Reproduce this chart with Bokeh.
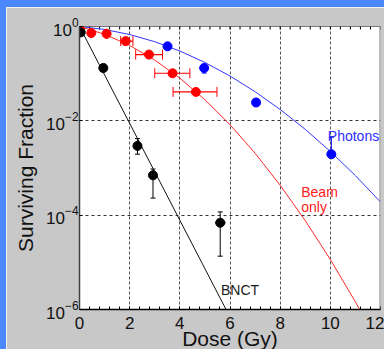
import math
from bokeh.plotting import figure
from bokeh.models import (ColumnDataSource, Whisker, TeeHead, FixedTicker,
                          Range1d, Span)
from bokeh.core.properties import value
from bokeh.embed import file_html
from bokeh.resources import INLINE

# ---- data ----
x_ticks = [0, 2, 4, 6, 8, 10, 12]
x_minor_ticks = [i * 0.4 for i in range(31)]
y_ticks = [1e-6, 1e-4, 1e-2, 1.0]

# model curves (read at whole Gy)
photon_curve_dose = [0, 1, 2, 3, 4, 5, 6, 7, 8, 9, 10, 11, 12]
photon_curve_sf = [1.0, 0.866, 0.676, 0.476, 0.302, 0.173, 0.0891, 0.0415,
                   0.0174, 0.0066, 0.00224, 0.00069, 0.00019]
beam_curve_dose = [0, 1, 2, 3, 4, 5, 6, 7, 8, 9, 10, 11, 11.5]
beam_curve_sf = [1.0, 0.686, 0.397, 0.1945, 0.0803, 0.028, 0.00826, 0.00206,
                 0.000432, 7.66e-5, 1.15e-5, 1.45e-6, 4.9e-7]
bnct_curve_dose = [0, 6]
bnct_curve_sf = [1.0, 6.9e-7]

# measured points
photon_dose = [3.51, 4.97, 7.04, 10.04]
photon_sf = [0.38, 0.132, 0.0245, 0.00196]
photon_sf_lo = [0.36, 0.103, 0.0235, 0.0018]
photon_sf_hi = [0.40, 0.140, 0.0255, 0.0045]

beam_dose = [0.02, 0.47, 1.08, 1.84, 2.77, 3.71, 4.64]
beam_sf = [0.88, 0.73, 0.70, 0.49, 0.254, 0.102, 0.041]
beam_dose_lo = [0.02, 0.47, 1.08, 1.64, 2.24, 3.00, 3.73]
beam_dose_hi = [0.02, 0.47, 1.08, 2.13, 3.31, 4.40, 5.48]

bnct_dose = [0.05, 0.95, 2.31, 2.93, 5.61]
bnct_sf = [0.75, 0.132, 0.00294, 7.0e-4, 6.9e-5]
bnct_sf_lo = [0.75, 0.132, 0.00196, 2.3e-4, 1.35e-5]
bnct_sf_hi = [0.75, 0.132, 0.0042, 9.5e-4, 1.17e-4]
bnct_dose_lo = [0.05, 0.95, 2.31, 2.93, 5.40]
bnct_dose_hi = [0.05, 0.95, 2.31, 2.93, 5.83]

label_text = ["Photons", "Beam", "only", "BNCT"]
label_dose = [9.9, 8.84, 8.84, 5.64]
label_sf = [0.0048, 3.13e-4, 1.48e-4, 2.62e-6]
label_color = ["#2f2fff", "#ff2020", "#ff2020", "#1a1a1a"]

BLUE = "#0000ff"
RED = "#ff0000"
FONT = "Liberation Sans"
X0, X1, Y0, Y1 = 0, 12, 1e-6, 1.0

p = figure(width=384, height=349, y_axis_type="log",
           x_range=Range1d(X0, X1), y_range=Range1d(Y0, Y1),
           output_backend="svg", toolbar_location=None,
           min_border_left=73, min_border_right=10, min_border_top=19,
           min_border_bottom=47,
           border_fill_color="#c8c8c8", background_fill_color="white",
           outline_line_color=None)
p.styles = {"border-left": "6px solid #4a88fb", "border-top": "7px solid #4a88fb"}

# axes
p.xaxis.ticker = FixedTicker(ticks=x_ticks, minor_ticks=x_minor_ticks)
p.yaxis.ticker = FixedTicker(ticks=y_ticks)
for ax in (p.xaxis[0], p.yaxis[0]):
    ax.major_label_text_font = FONT
    ax.major_label_text_font_size = "17px"
    ax.major_label_text_color = "#111111"
    ax.axis_label_text_font = FONT
    ax.axis_label_text_font_size = "21px"
    ax.axis_label_text_font_style = "normal"
    ax.axis_label_text_color = "#111111"
    ax.major_tick_in = 3
    ax.major_tick_out = 0
    ax.minor_tick_in = 3
    ax.minor_tick_out = 0
p.xaxis.axis_label = "Dose (Gy)"
p.yaxis.axis_label = "Surviving Fraction"
p.xaxis.axis_line_color = "black"
p.xaxis.axis_line_width = 1.5
p.xaxis.major_label_standoff = 7
p.xaxis.axis_label_standoff = -5
p.yaxis.axis_line_color = "#404040"
p.yaxis.axis_line_width = 1.5
p.yaxis.major_label_standoff = 1
p.yaxis.axis_label_standoff = 6
p.yaxis.minor_tick_line_color = None

# frame top edge with inward ticks, right edge grey bar
p.add_layout(Span(location=Y1, dimension="width", line_color="black", line_width=1))
p.add_layout(Span(location=X1, dimension="height", line_color="#7a7a7a", line_width=2))
p.scatter(x_minor_ticks, [Y1] * len(x_minor_ticks), marker="dash", size=6,
          angle=math.pi / 2, line_color="black", line_width=1)

# grid
p.xgrid.grid_line_color = "#555555"
p.xgrid.grid_line_dash = "3 2"
p.ygrid.grid_line_color = "#333333"
p.ygrid.grid_line_dash = "3 3"

# curves
p.line(photon_curve_dose, photon_curve_sf, line_color="#3535ff", line_width=1)
p.line(beam_curve_dose, beam_curve_sf, line_color="#ff2a2a", line_width=1)
p.line(bnct_curve_dose, bnct_curve_sf, line_color="#111111", line_width=1)

# error bars
ph = ColumnDataSource(dict(x=photon_dose, y=photon_sf, lo=photon_sf_lo, hi=photon_sf_hi))
p.add_layout(Whisker(source=ph, base="x", lower="lo", upper="hi", dimension="height",
                     line_color=BLUE, lower_head=TeeHead(size=5, line_color=BLUE),
                     upper_head=TeeHead(size=5, line_color=BLUE)))
bm = ColumnDataSource(dict(x=beam_dose, y=beam_sf, lo=beam_dose_lo, hi=beam_dose_hi))
p.add_layout(Whisker(source=bm, base="y", lower="lo", upper="hi", dimension="width",
                     line_color=RED, line_width=1.2,
                     lower_head=TeeHead(size=10, line_color=RED),
                     upper_head=TeeHead(size=10, line_color=RED)))
bn = ColumnDataSource(dict(x=bnct_dose, y=bnct_sf, lo=bnct_sf_lo, hi=bnct_sf_hi,
                           xlo=bnct_dose_lo, xhi=bnct_dose_hi))
p.add_layout(Whisker(source=bn, base="x", lower="lo", upper="hi", dimension="height",
                     line_color="black", lower_head=TeeHead(size=5, line_color="black"),
                     upper_head=TeeHead(size=5, line_color="black")))
p.add_layout(Whisker(source=bn, base="y", lower="xlo", upper="xhi", dimension="width",
                     line_color="black", lower_head=None, upper_head=None))

# points
p.scatter(beam_dose, beam_sf, size=9, color=RED)
p.scatter(photon_dose, photon_sf, size=9, color=BLUE)
p.scatter(bnct_dose, bnct_sf, size=9, color="black")

# labels
lab = ColumnDataSource(dict(x=label_dose, y=label_sf, t=label_text, c=label_color))
p.text(x="x", y="y", text="t", text_color="c", source=lab,
       text_font=value(FONT), text_font_size="14px",
       text_baseline="alphabetic", text_align="left")

open("out.html", "w").write(file_html(p, INLINE))
